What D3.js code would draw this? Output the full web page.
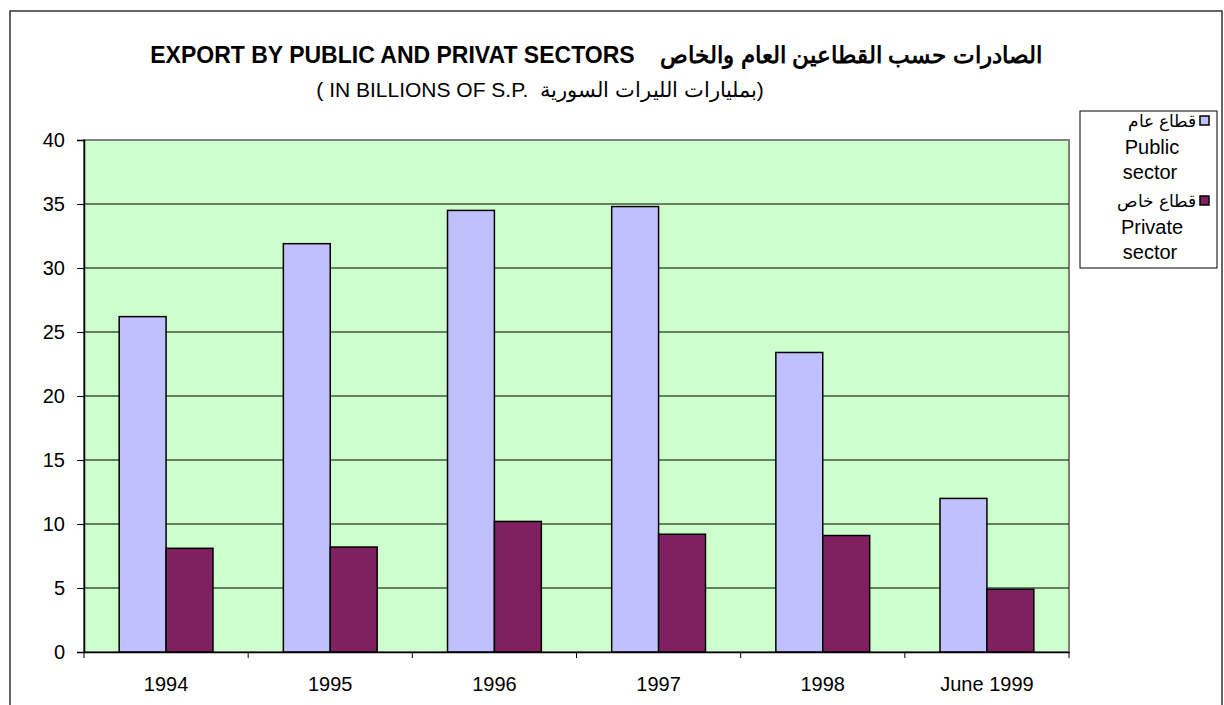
<!DOCTYPE html>
<html>
<head>
<meta charset="utf-8">
<script src="https://cdn.jsdelivr.net/npm/d3@7"></script>
<style>
  html, body { margin: 0; padding: 0; background: #ffffff; }
  svg { display: block; }
  text { font-family: Arial, "Liberation Sans", sans-serif; fill: #000; }
</style>
</head>
<body>
<svg id="chart" width="1224" height="705"></svg>
<script>
// ---- data ----
const categories = ["1994", "1995", "1996", "1997", "1998", "June 1999"];
const publicSector = [26.2, 31.9, 34.5, 34.8, 23.4, 12.0];
const privateSector = [8.1, 8.2, 10.2, 9.2, 9.1, 4.9];
const seriesKeys = ["public", "private"];
const seriesNames = { public: ["قطاع عام", "Public", "sector"], private: ["قطاع خاص", "Private", "sector"] };
const seriesColors = { public: "#C0C0FF", private: "#802060" };
const yTicks = [0, 5, 10, 15, 20, 25, 30, 35, 40];
const titleEnglish = "EXPORT BY PUBLIC AND PRIVAT SECTORS";
const titleArabic = "الصادرات حسب القطاعين العام والخاص";
const subtitleEnglish = "( IN BILLIONS OF S.P.";
const subtitleArabic = "بمليارات الليرات السورية";

const svg = d3.select("#chart");

// outer chart border
svg.append("rect").attr("x", 10).attr("y", 11).attr("width", 1212).attr("height", 720)
  .attr("fill", "#fff").attr("stroke", "#333").attr("stroke-width", 1.5);

const plot = { left: 84, right: 1069, top: 140, bottom: 652 };

const x0 = d3.scaleBand().domain(categories).range([plot.left, plot.right]).padding(0);
const x1 = d3.scaleBand().domain(seriesKeys).range([0, x0.bandwidth()]).paddingInner(0).paddingOuter(0.75);
const y = d3.scaleLinear().domain([0, 40]).range([plot.bottom, plot.top]);

// plot background
svg.append("rect").attr("x", plot.left).attr("y", plot.top)
  .attr("width", plot.right - plot.left).attr("height", plot.bottom - plot.top)
  .attr("fill", "#CCFFCC").attr("stroke", "#808080").attr("stroke-width", 2);

// gridlines
svg.append("g").selectAll("line").data(yTicks.filter(t => t > 0 && t < 40)).join("line")
  .attr("x1", plot.left).attr("x2", plot.right)
  .attr("y1", d => y(d)).attr("y2", d => y(d))
  .attr("stroke", "#000").attr("stroke-width", 1);

// bars
const rows = categories.map((c, i) => ({ cat: c, public: publicSector[i], private: privateSector[i] }));
const groups = svg.append("g").selectAll("g").data(rows).join("g")
  .attr("transform", d => `translate(${x0(d.cat)},0)`);
groups.selectAll("rect").data(d => seriesKeys.map(k => ({ key: k, value: d[k] }))).join("rect")
  .attr("x", d => x1(d.key)).attr("width", x1.bandwidth())
  .attr("y", d => y(d.value)).attr("height", d => y(0) - y(d.value))
  .attr("fill", d => seriesColors[d.key]).attr("stroke", "#000").attr("stroke-width", 1.5);

// y axis
const yAxis = svg.append("g").attr("transform", `translate(${plot.left},0)`)
  .call(d3.axisLeft(y).tickValues(yTicks).tickSize(7).tickPadding(12).tickFormat(d3.format("d")));
yAxis.select(".domain").attr("stroke", "#000").attr("stroke-width", 1.5);
yAxis.selectAll(".tick line").attr("stroke", "#000");
yAxis.selectAll("text").attr("font-size", 20).attr("font-family", "Arial, 'Liberation Sans', sans-serif");

// x axis
const xAxis = svg.append("g").attr("transform", `translate(0,${plot.bottom})`)
  .call(d3.axisBottom(x0).tickSize(0).tickPadding(25));
xAxis.select(".domain").attr("stroke", "#000").attr("stroke-width", 1.5);
xAxis.selectAll("text").attr("font-size", 20).attr("font-family", "Arial, 'Liberation Sans', sans-serif");
const boundaries = categories.map(c => x0(c)).concat([x0(categories[categories.length - 1]) + x0.bandwidth()]);
xAxis.selectAll(".sep").data(boundaries).join("line").attr("class", "sep")
  .attr("x1", d => d).attr("x2", d => d).attr("y1", 0).attr("y2", 6).attr("stroke", "#000");

// title
const t1 = svg.append("text").attr("x", 596).attr("y", 63).attr("text-anchor", "middle")
  .attr("font-size", 23).attr("font-weight", "bold").attr("direction", "ltr");
t1.append("tspan").text(titleEnglish);
t1.append("tspan").text("\u00a0\u00a0\u00a0\u00a0");
t1.append("tspan").text(titleArabic);

const t2 = svg.append("text").attr("x", 540).attr("y", 97).attr("text-anchor", "middle")
  .attr("font-size", 21).attr("direction", "ltr");
t2.append("tspan").text(subtitleEnglish + "\u00a0\u00a0");
t2.append("tspan").text(subtitleArabic);
t2.append("tspan").text(")");

// legend
const lg = svg.append("g");
lg.append("rect").attr("x", 1080).attr("y", 111).attr("width", 137).attr("height", 157)
  .attr("fill", "#fff").attr("stroke", "#000").attr("stroke-width", 1);
const legendRowY = { public: 121, private: 201 };
seriesKeys.forEach(k => {
  const yy = legendRowY[k];
  lg.append("rect").attr("x", 1200).attr("y", yy - 5).attr("width", 9).attr("height", 9)
    .attr("fill", seriesColors[k]).attr("stroke", "#000").attr("stroke-width", 1.5);
  lg.append("text").attr("x", 1196).attr("y", yy).attr("dy", "0.35em").attr("text-anchor", "end")
    .attr("font-size", 17).text(seriesNames[k][0]);
  lg.append("text").attr("x", 1152).attr("y", yy + 26).attr("dy", "0.35em").attr("text-anchor", "middle")
    .attr("font-size", 20).text(seriesNames[k][1]);
  lg.append("text").attr("x", 1150).attr("y", yy + 51).attr("dy", "0.35em").attr("text-anchor", "middle")
    .attr("font-size", 20).text(seriesNames[k][2]);
});
</script>
</body>
</html>
